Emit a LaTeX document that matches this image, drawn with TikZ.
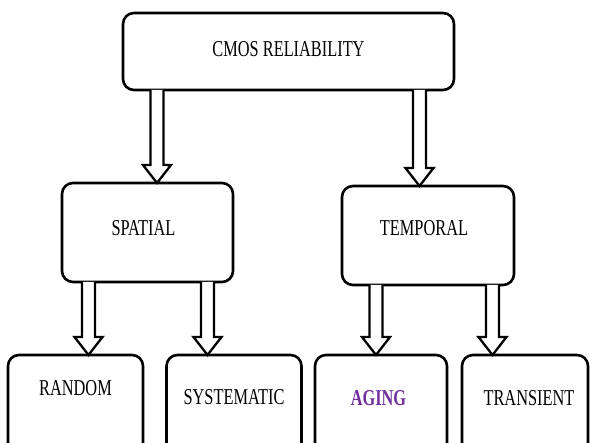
\documentclass[tikz,border=0pt]{standalone}
\usepackage{fontspec}
\setmainfont{Liberation Serif}
\usepackage{graphicx}
\usetikzlibrary{calc}
\definecolor{agingpurple}{HTML}{7030A0}
\tikzset{
  box/.style={draw, line width=2.6pt, rounded corners=11pt, inner sep=0pt, outer sep=0pt,
    font=\fontsize{22.7}{26}\selectfont, align=center},
  blockarrow/.style={draw, line width=2.3pt, line join=miter, fill=white}
}
\newcommand\cnd[1]{\scalebox{0.72}[1]{#1}}
\newcommand\blockarrow[3]{%
  \draw[blockarrow] let \p1=(#2.south), \p2=(#3.north) in
    (#1pt-6.5pt,\y1) -- (#1pt-6.5pt,\y2+18pt) -- (#1pt-14pt,\y2+18pt) -- (#1pt,\y2)
    -- (#1pt+14pt,\y2+18pt) -- (#1pt+6.5pt,\y2+18pt) -- (#1pt+6.5pt,\y1);
}
\begin{document}
\begin{tikzpicture}[x=1pt,y=1pt]
\useasboundingbox (0,0) rectangle (590,443);
\clip (0,0) rectangle (590,443);
\node[box, minimum width=331pt, minimum height=77pt, text height=11pt, text depth=0pt] (top) at (288.5,391.5) {\cnd{CMOS RELIABILITY}};
\node[box, minimum width=171pt, minimum height=99pt, text height=6pt, text depth=0pt] (spatial) at (147.5,210.5) {\cnd{SPATIAL}\hspace{8pt}};
\node[box, minimum width=172pt, minimum height=99pt, text height=1pt, text depth=0pt] (temporal) at (428,207.5) {\cnd{TEMPORAL}\hspace{8pt}};
\node[box, minimum width=135pt, minimum height=105pt, text height=0pt, text depth=24pt] (random) at (75.5,35.5) {\cnd{RANDOM}};
\node[box, minimum width=135pt, minimum height=105pt, text height=0pt, text depth=6pt] (systematic) at (234,35.5) {\cnd{SYSTEMATIC}};
\node[box, minimum width=132pt, minimum height=105pt, text height=0pt, text depth=4pt] (aging) at (381,35.5) {\textcolor{agingpurple}{\cnd{\bfseries AGING}}\hspace{5pt}};
\node[box, minimum width=126pt, minimum height=105pt, text height=0pt, text depth=4pt] (transient) at (525,35.5) {\hspace{8pt}\cnd{TRANSIENT}};
\blockarrow{157}{top}{spatial}
\blockarrow{419.5}{top}{temporal}
\blockarrow{88.5}{spatial}{random}
\blockarrow{207.5}{spatial}{systematic}
\blockarrow{376}{temporal}{aging}
\blockarrow{492.5}{temporal}{transient}
\end{tikzpicture}
\end{document}
